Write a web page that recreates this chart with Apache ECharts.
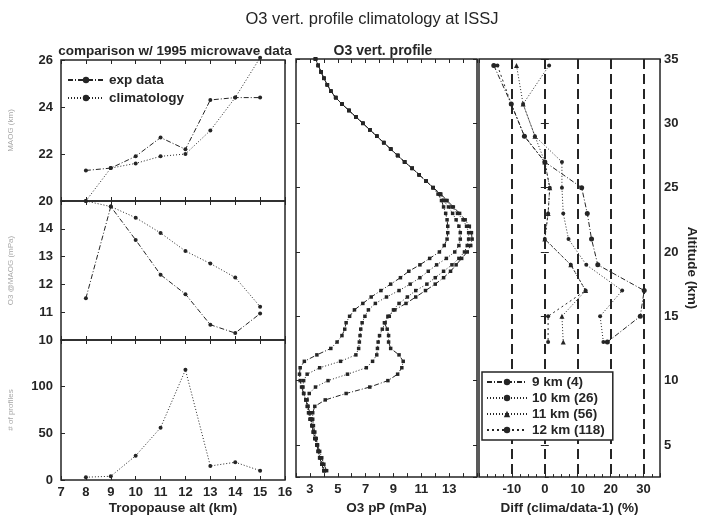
<!DOCTYPE html>
<html>
<head>
<meta charset="utf-8">
<title>O3 vert. profile climatology at ISSJ</title>
<script src="https://cdn.jsdelivr.net/npm/echarts@6.0.0/dist/echarts.min.js"></script>
<style>
  html, body { margin: 0; padding: 0; background: #fff; }
  #chart { width: 706px; height: 520px; }
</style>
</head>
<body>
<div id="chart"></div>
<script>
// ---- left column: per tropopause altitude ----
const tropAlt = [8, 9, 10, 11, 12, 13, 14, 15]
const maogExp = [21.3, 21.4, 21.9, 22.7, 22.2, 24.3, 24.4, 24.4]
const maogClim = [20.0, 21.4, 21.6, 21.9, 22.0, 23.0, 24.4, 26.1]
const o3MaxExp = [11.5, 14.8, 13.6, 12.35, 11.65, 10.55, 10.25, 10.95]
const o3MaxClim = [15.0, 14.8, 14.4, 13.85, 13.2, 12.75, 12.25, 11.2]
const profileCount = [3, 4, 26, 56, 118, 15, 19, 10]

// ---- middle: O3 partial pressure profiles ----
const altLow = [3, 3.5, 4, 4.5, 5, 5.5, 6, 6.5, 7, 7.5, 8, 8.5, 9, 9.5, 10, 10.5, 11, 11.5,
  12, 12.5, 13, 13.5, 14, 14.5, 15, 15.5, 16, 16.5, 17, 17.5, 18, 18.5, 19, 19.5, 20, 20.5,
  21, 21.5, 22, 22.5, 23, 23.5, 24, 24.5]
const altHigh = [25, 25.5, 26, 26.5, 27, 27.5, 28, 28.5, 29, 29.5, 30, 30.5, 31, 31.5, 32,
  32.5, 33, 33.5, 34, 34.5, 35]
// common upper part (all classes coincide above 25 km)
const o3High = [11.85, 11.35, 10.85, 10.35, 9.8, 9.3, 8.8, 8.3, 7.8, 7.3, 6.8, 6.3, 5.8, 5.3,
  4.85, 4.5, 4.25, 4.0, 3.8, 3.6, 3.4]
const o3Low9 = [4.2, 4.0, 3.85, 3.7, 3.55, 3.45, 3.35, 3.25, 3.2, 3.2, 3.35, 4.1, 5.6, 7.3,
  8.6, 9.3, 9.6, 9.7, 9.4, 8.8, 8.65, 8.65, 8.55, 8.35, 8.6, 9.1, 9.9, 10.6, 11.3, 12.0,
  12.6, 13.1, 13.5, 13.9, 14.3, 14.55, 14.65, 14.6, 14.45, 14.15, 13.75, 13.3, 12.85, 12.4]
const o3Low10 = [4.05, 3.9, 3.75, 3.6, 3.5, 3.4, 3.25, 3.15, 3.05, 2.95, 2.85, 2.8, 2.95,
  3.4, 4.3, 5.7, 7.05, 7.5, 7.8, 7.85, 7.9, 8.0, 8.2, 8.4, 8.7, 9.0, 9.4, 10.0, 10.6, 11.4,
  12.0, 12.6, 13.2, 13.7, 14.1, 14.3, 14.4, 14.4, 14.25, 14.0, 13.6, 13.2, 12.75, 12.35]
const o3Low11 = [4.0, 3.85, 3.7, 3.6, 3.5, 3.35, 3.25, 3.15, 3.0, 2.9, 2.8, 2.7, 2.55, 2.5,
  2.55, 2.8, 3.7, 5.2, 6.3, 6.5, 6.55, 6.6, 6.65, 6.75, 6.95, 7.2, 7.7, 8.5, 9.4, 10.2,
  10.9, 11.5, 12.1, 12.8, 13.4, 13.7, 13.8, 13.8, 13.7, 13.5, 13.25, 12.95, 12.6, 12.3]
const o3Low12 = [4.0, 3.85, 3.7, 3.6, 3.5, 3.35, 3.25, 3.15, 3.1, 3.0, 2.85, 2.7, 2.55, 2.4,
  2.3, 2.25, 2.3, 2.6, 3.5, 4.5, 4.95, 5.3, 5.5, 5.6, 5.85, 6.2, 6.8, 7.4, 8.1, 8.8, 9.5,
  10.1, 10.9, 11.6, 12.3, 12.65, 12.85, 12.9, 12.9, 12.85, 12.75, 12.6, 12.45, 12.2]

// ---- right: relative difference climatology vs data ----
const diffAlt = [34.5, 31.5, 29, 27, 25, 23, 21, 19, 17, 15, 13]
const diff9 = [-15.5, -10.2, -6.2, 0, 11.2, 12.9, 14.2, 16.1, 30.2, 29.0, 19.0]
const diff10 = [1.3, -6.6, -3.0, 5.2, 5.2, 5.6, 7.2, 12.6, 23.5, 16.8, 17.8]
const diff11 = [-8.6, -6.6, -3.0, 0, 1.5, 1.0, 0, 7.9, 12.4, 5.2, 5.6]
const diff12 = [-14.4, -10.2, -6.2, 0, 1.5, 1.0, 0, 7.9, 12.4, 1.0, 1.0]

const classNames = ['9 km (4)', '10 km (26)', '11 km (56)', '12 km (118)']

const ink = '#252525'
const font = 'Liberation Sans, Arial, sans-serif'

const pairs = (xs, ys) => xs.map((x, i) => [x, ys[i]])
const profile = (low, high) => pairs(low, altLow).concat(pairs(high, altHigh))

const lineSeries = (name, data, xi, yi, dash, symbol, size) => ({
  name,
  type: 'line',
  xAxisIndex: xi,
  yAxisIndex: yi,
  data,
  clip: false,
  symbol,
  symbolSize: size,
  itemStyle: { color: ink },
  lineStyle: { color: ink, width: 1, type: dash },
  emphasis: { disabled: true },
  animation: false
})

const tickOnly = (gridIndex, position, min, max, interval) => ({
  type: 'value', gridIndex, position, min, max, interval,
  axisLine: { show: false },
  axisTick: { inside: true, length: 4, lineStyle: { color: ink } },
  axisLabel: { show: false },
  splitLine: { show: false }
})

const labelStyle = { color: ink, fontFamily: font, fontSize: 13, fontWeight: 'bold' }
const nameStyle = { color: ink, fontFamily: font, fontSize: 13.5, fontWeight: 'bold' }
const faintName = { color: '#a8a8a8', fontFamily: font, fontSize: 8 }

const altAxis = (gridIndex, position, showLabels) => ({
  type: 'value', gridIndex, position, min: 2.5, max: 35, minInterval: 5, maxInterval: 5,
  axisLine: { show: false },
  axisTick: { inside: true, length: 4, lineStyle: { color: ink } },
  axisLabel: showLabels
    ? Object.assign({ margin: 4, showMinLabel: false, formatter: v => (v % 5 === 0 ? v : '') }, labelStyle)
    : { show: false },
  splitLine: { show: false },
  name: showLabels ? 'Altitude (km)' : '',
  nameLocation: 'middle',
  nameRotate: -90,
  nameGap: 25,
  nameTextStyle: nameStyle
})

const myChart = echarts.init(document.getElementById('chart'), null, { renderer: 'canvas' })

const gridBase = { show: true, borderColor: ink, borderWidth: 1.5, backgroundColor: 'transparent' }

myChart.setOption({
  backgroundColor: '#ffffff',
  animation: false,
  title: [
    { text: 'O3 vert. profile climatology at ISSJ', left: 367, top: 6, textAlign: 'center',
      textStyle: { color: ink, fontFamily: font, fontSize: 16.5, fontWeight: 'normal' } },
    { text: 'comparison w/ 1995 microwave data', left: 170, top: 39, textAlign: 'center',
      textStyle: { color: ink, fontFamily: font, fontSize: 13.5, fontWeight: 'bold' } },
    { text: 'O3 vert. profile', left: 378, top: 39, textAlign: 'center',
      textStyle: { color: ink, fontFamily: font, fontSize: 14, fontWeight: 'bold' } }
  ],
  legend: [
    {
      data: ['exp data', 'climatology'],
      orient: 'vertical', left: 62, top: 68, itemGap: 4, itemWidth: 36, itemHeight: 8,
      textStyle: { color: ink, fontFamily: font, fontSize: 13.5, fontWeight: 'bold' },
      selectedMode: false
    },
    {
      data: classNames,
      orient: 'vertical', left: 482, top: 372, itemGap: 2, itemWidth: 40, itemHeight: 8,
      padding: [3, 8, 3, 4],
      backgroundColor: '#ffffff',
      borderColor: ink, borderWidth: 1.5,
      textStyle: { color: ink, fontFamily: font, fontSize: 13.5, fontWeight: 'bold' },
      selectedMode: false
    }
  ],
  grid: [
    Object.assign({ left: 61, top: 60, width: 224, height: 141 }, gridBase),
    Object.assign({ left: 61, top: 201, width: 224, height: 139 }, gridBase),
    Object.assign({ left: 61, top: 340, width: 224, height: 140 }, gridBase),
    Object.assign({ left: 296, top: 59, width: 181, height: 421 }, gridBase),
    Object.assign({ left: 479, top: 59, width: 181, height: 421 }, gridBase)
  ],
  xAxis: [
    tickOnly(0, 'bottom', 7, 16, 1),
    tickOnly(0, 'top', 7, 16, 1),
    tickOnly(1, 'bottom', 7, 16, 1),
    tickOnly(1, 'top', 7, 16, 1),
    Object.assign(tickOnly(2, 'bottom', 7, 16, 1), {
      axisLabel: Object.assign({ show: true, margin: 6 }, labelStyle),
      name: 'Tropopause alt (km)', nameLocation: 'middle', nameGap: 21, nameTextStyle: nameStyle
    }),
    tickOnly(2, 'top', 7, 16, 1),
    Object.assign(tickOnly(3, 'bottom', 2, 15, 1), {
      axisLabel: Object.assign({ show: true, margin: 6,
        formatter: v => (v % 2 === 1 && v < 15 ? v : '') }, labelStyle),
      name: 'O3 pP (mPa)', nameLocation: 'middle', nameGap: 21, nameTextStyle: nameStyle
    }),
    tickOnly(3, 'top', 2, 15, 1),
    Object.assign(tickOnly(4, 'bottom', -20, 35, 10), {
      minorTick: { show: true, splitNumber: 4, length: 3, lineStyle: { color: ink } },
      axisLabel: Object.assign({ show: true, margin: 6, showMinLabel: false, showMaxLabel: false,
        formatter: v => (v % 10 === 0 && v > -20 ? v : '') }, labelStyle),
      splitLine: { show: true, showMinLine: false, showMaxLine: false,
        lineStyle: { color: ink, width: 2, type: [10, 5] } },
      name: 'Diff (clima/data-1) (%)', nameLocation: 'middle', nameGap: 21, nameTextStyle: nameStyle
    }),
    tickOnly(4, 'top', -20, 35, 10)
  ],
  yAxis: [
    Object.assign(tickOnly(0, 'left', 20, 26, 2), {
      axisLabel: Object.assign({ show: true, margin: 8 }, labelStyle),
      name: 'MAOG (km)', nameLocation: 'middle', nameGap: 46, nameTextStyle: faintName
    }),
    Object.assign(tickOnly(1, 'left', 10, 15, 1), {
      axisLabel: Object.assign({ show: true, margin: 8, formatter: v => (v < 15 ? v : '') }, labelStyle),
      name: 'O3 @MAOG (mPa)', nameLocation: 'middle', nameGap: 46, nameTextStyle: faintName
    }),
    Object.assign(tickOnly(2, 'left', 0, 150, 50), {
      axisLabel: Object.assign({ show: true, margin: 8, formatter: v => (v < 150 ? v : '') }, labelStyle),
      name: '# of profiles', nameLocation: 'middle', nameGap: 46, nameTextStyle: faintName
    }),
    altAxis(3, 'left', false),
    altAxis(3, 'right', false),
    altAxis(4, 'left', false),
    altAxis(4, 'right', true)
  ],
  series: [
    // right: differences (listed first so the legend takes their symbols)
    lineSeries(classNames[0], pairs(diff9, diffAlt), 8, 6, [5, 2, 1, 2], 'circle', 5),
    lineSeries(classNames[1], pairs(diff10, diffAlt), 8, 6, [1, 2], 'circle', 4),
    lineSeries(classNames[2], pairs(diff11, diffAlt), 8, 6, [1, 2], 'triangle', 5),
    lineSeries(classNames[3], pairs(diff12, diffAlt), 8, 6, [2, 3], 'circle', 4),
    // left top: altitude of O3 maximum
    lineSeries('exp data', pairs(tropAlt, maogExp), 0, 0, [5, 2, 1, 2], 'circle', 4),
    lineSeries('climatology', pairs(tropAlt, maogClim), 0, 0, [1, 2], 'circle', 4),
    // left middle: O3 at the maximum
    lineSeries('exp data', pairs(tropAlt, o3MaxExp), 2, 1, [5, 2, 1, 2], 'circle', 4),
    lineSeries('climatology', pairs(tropAlt, o3MaxClim), 2, 1, [1, 2], 'circle', 4),
    // left bottom: number of profiles
    lineSeries('profiles', pairs(tropAlt, profileCount), 4, 2, [1, 2], 'circle', 4),
    // middle: profiles per tropopause class
    lineSeries(classNames[0], profile(o3Low9, o3High), 6, 3, [5, 2, 1, 2], 'rect', 3.5),
    lineSeries(classNames[1], profile(o3Low10, o3High), 6, 3, [1, 2], 'rect', 3.5),
    lineSeries(classNames[2], profile(o3Low11, o3High), 6, 3, [1, 2], 'rect', 3.5),
    lineSeries(classNames[3], profile(o3Low12, o3High), 6, 3, [5, 2, 1, 2], 'rect', 3.5)
  ]
})

window.onresize = () => {
  myChart.resize()
}
</script>
</body>
</html>
